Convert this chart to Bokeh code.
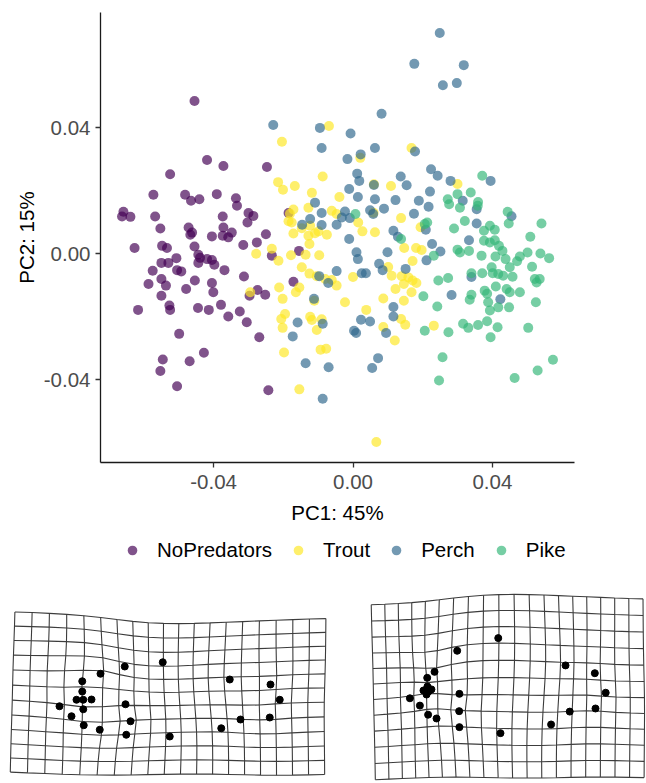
import numpy as np
from bokeh.plotting import figure
from bokeh.models import (Legend, LegendItem, FixedTicker, PrintfTickFormatter, Range1d)
from bokeh.layouts import column, row
from bokeh.embed import file_html
from bokeh.resources import INLINE

# ---------------- data: PCA scores ----------------
GROUPS = ["NoPredators", "Trout", "Perch", "Pike"]
COLORS = ["#440154", "#FDE725", "#31688E", "#35B779"]
TICKS = [-0.04, 0.0, 0.04]
X_TITLE = "PC1: 45%"
Y_TITLE = "PC2: 15%"

NOPRED_X = [-0.0455, -0.0419, -0.0372, -0.0247, -0.0525, -0.0573, -0.0482, -0.0465, -0.0441, -0.0391,
            -0.0336, -0.0333, -0.0659, -0.0663, -0.0639, -0.0568, -0.0553, -0.0472, -0.0462, -0.0467,
            -0.0374, -0.0300, -0.0286, -0.0303, -0.0372, -0.0348, -0.0405, -0.0374, -0.0358, -0.0315,
            -0.0276, -0.0627, -0.0548, -0.0534, -0.0455, -0.0507, -0.0444, -0.0439, -0.0419, -0.0405,
            -0.0398, -0.0550, -0.0530, -0.0444, -0.0575, -0.0505, -0.0493, -0.0369, -0.0550, -0.0587,
            -0.0537, -0.0550, -0.0313, -0.0454, -0.0479, -0.0405, -0.0401, -0.0274, -0.0252, -0.0617,
            -0.0527, -0.0525, -0.0445, -0.0414, -0.0379, -0.0358, -0.0325, -0.0305, -0.0269, -0.0499,
            -0.0428, -0.0546, -0.0469, -0.0553, -0.0505, -0.0243, -0.0185, -0.0250, -0.0155, -0.0233,
            -0.0171, -0.0297]
NOPRED_Y = [0.0484, 0.0297, 0.0278, 0.0275, 0.0252, 0.0187, 0.0187, 0.0168, 0.0173, 0.0189,
            0.0176, 0.0152, 0.0133, 0.0118, 0.0117, 0.0118, 0.0080, 0.0083, 0.0067, 0.0060,
            0.0118, 0.0129, 0.0120, 0.0099, 0.0083, 0.0067, 0.0055, 0.0057, 0.0052, 0.0028,
            0.0036, 0.0018, 0.0025, 0.0018, 0.0023, -0.0014, -0.0003, -0.0013, -0.0017, -0.0020,
            -0.0035, -0.0029, -0.0029, -0.0029, -0.0054, -0.0052, -0.0056, -0.0052, -0.0080, -0.0096,
            -0.0101, -0.0133, -0.0072, -0.0085, -0.0112, -0.0093, -0.0122, -0.0115, -0.0130, -0.0178,
            -0.0164, -0.0178, -0.0172, -0.0178, -0.0162, -0.0199, -0.0183, -0.0217, -0.0265, -0.0254,
            -0.0314, -0.0335, -0.0341, -0.0372, -0.0420, -0.0433, 0.0129, 0.0062, 0.0009, -0.0006,
            -0.0089, -0.0133]

TROUT_X = [-0.0069, -0.0204, 0.0168, 0.0021, -0.0087, -0.0215, -0.0201, -0.0167, -0.0118, -0.0039,
           0.0060, 0.0109, 0.0300, -0.0171, -0.0128, -0.0181, -0.0185, -0.0176, -0.0147, -0.0123,
           -0.0061, -0.0047, 0.0059, 0.0138, 0.0015, 0.0027, 0.0063, 0.0194, -0.0171, -0.0128,
           -0.0109, -0.0099, -0.0075, -0.0125, -0.0233, -0.0278, -0.0214, -0.0178, -0.0136, -0.0097,
           -0.0147, -0.0125, -0.0104, -0.0080, -0.0061, -0.0047, -0.0154, -0.0164, -0.0212, -0.0202,
           -0.0111, -0.0023, -0.0195, -0.0206, -0.0123, -0.0118, -0.0090, -0.0202, -0.0104, -0.0198,
           -0.0093, -0.0077, -0.0154, 0.0000, 0.0038, 0.0101, 0.0111, 0.0140, 0.0146, 0.0122,
           0.0168, 0.0171, 0.0182, 0.0159, 0.0171, 0.0087, 0.0146, 0.0087, 0.0138, 0.0150,
           0.0120, 0.0067, 0.0147, 0.0181, 0.0197, 0.0232, -0.0295]
TROUT_Y = [0.0405, 0.0355, 0.0335, 0.0304, 0.0245, 0.0227, 0.0203, 0.0215, 0.0193, 0.0180,
           0.0220, 0.0215, 0.0221, 0.0140, 0.0146, 0.0127, 0.0103, 0.0099, 0.0081, 0.0089,
           0.0136, 0.0126, 0.0130, 0.0113, 0.0099, 0.0071, 0.0068, 0.0084, 0.0064, 0.0057,
           0.0065, 0.0071, 0.0060, 0.0031, 0.0016, 0.0000, -0.0022, -0.0005, -0.0003, -0.0005,
           -0.0043, -0.0063, -0.0071, -0.0080, -0.0083, -0.0101, -0.0107, -0.0122, -0.0107, -0.0143,
           -0.0149, -0.0154, -0.0191, -0.0207, -0.0200, -0.0210, -0.0208, -0.0235, -0.0242, -0.0313,
           -0.0304, -0.0301, -0.0430, -0.0074, -0.0178, -0.0042, -0.0070, -0.0071, -0.0096, -0.0112,
           -0.0122, -0.0085, -0.0093, -0.0075, -0.0023, -0.0142, -0.0149, -0.0232, -0.0207, -0.0225,
           -0.0275, -0.0597, 0.0018, 0.0018, 0.0012, -0.0228, -0.0122]

PERCH_X = [0.0249, 0.0176, 0.0318, 0.0258, 0.0298, 0.0082, -0.0229, -0.0095, -0.0007, -0.0090,
           0.0063, 0.0178, -0.0016, 0.0022, 0.0224, 0.0243, 0.0280, 0.0395, 0.0012, 0.0018,
           -0.0011, 0.0060, 0.0137, 0.0154, 0.0221, 0.0014, 0.0063, 0.0122, 0.0189, 0.0217,
           0.0315, -0.0109, -0.0090, 0.0049, 0.0089, 0.0058, 0.0175, 0.0355, -0.0023, -0.0032,
           -0.0123, -0.0146, -0.0090, -0.0047, -0.0009, 0.0116, 0.0129, 0.0209, 0.0355, -0.0011,
           0.0455, 0.0099, 0.0010, 0.0014, 0.0075, 0.0211, 0.0251, 0.0227, 0.0333, 0.0151,
           0.0085, -0.0047, 0.0025, 0.0037, 0.0340, -0.0097, -0.0071, -0.0112, 0.0283, 0.0423,
           -0.0087, -0.0159, -0.0173, 0.0023, 0.0049, 0.0003, 0.0009, 0.0095, 0.0116, 0.0116,
           0.0072, 0.0055, -0.0136, -0.0070, -0.0087]
PERCH_Y = [0.0700, 0.0602, 0.0598, 0.0534, 0.0541, 0.0444, 0.0408, 0.0399, 0.0381, 0.0335,
           0.0335, 0.0324, 0.0300, 0.0315, 0.0268, 0.0247, 0.0231, 0.0231, 0.0254, 0.0231,
           0.0205, 0.0218, 0.0245, 0.0217, 0.0197, 0.0180, 0.0173, 0.0170, 0.0168, 0.0149,
           0.0168, 0.0162, 0.0129, 0.0138, 0.0143, 0.0126, 0.0127, 0.0141, 0.0134, 0.0115,
           0.0110, 0.0092, 0.0091, 0.0092, 0.0113, 0.0073, 0.0054, 0.0076, 0.0096, 0.0047,
           0.0119, 0.0005, 0.0005, -0.0017, -0.0032, -0.0021, 0.0007, 0.0031, 0.0043, -0.0048,
           -0.0052, -0.0055, -0.0062, -0.0062, -0.0074, -0.0071, -0.0093, -0.0143, -0.0131, -0.0144,
           -0.0222, -0.0218, -0.0262, -0.0209, -0.0215, -0.0244, -0.0251, -0.0251, -0.0169, -0.0199,
           -0.0331, -0.0362, -0.0347, -0.0360, -0.0460]

PIKE_X = [0.0371, 0.0338, 0.0300, 0.0272, 0.0276, 0.0307, 0.0359, 0.0358, 0.0444, 0.0447,
          0.0541, 0.0321, 0.0213, 0.0206, 0.0290, 0.0376, 0.0393, 0.0407, 0.0509, 0.0376,
          0.0393, 0.0407, 0.0419, 0.0429, 0.0300, 0.0307, 0.0333, 0.0369, 0.0409, 0.0438,
          0.0479, 0.0471, 0.0501, 0.0538, 0.0563, 0.0450, 0.0398, 0.0417, 0.0401, 0.0371,
          0.0458, 0.0514, 0.0522, 0.0536, 0.0527, 0.0431, 0.0232, 0.0273, 0.0245, 0.0340,
          0.0410, 0.0378, 0.0385, 0.0441, 0.0450, 0.0479, 0.0340, 0.0335, 0.0388, 0.0393,
          0.0417, 0.0448, 0.0525, 0.0202, 0.0242, 0.0316, 0.0331, 0.0359, 0.0385, 0.0415,
          0.0395, 0.0503, 0.0206, 0.0274, 0.0257, 0.0247, 0.0464, 0.0530, 0.0574, 0.0007,
          0.0138]
PIKE_Y = [0.0247, 0.0194, 0.0189, 0.0173, 0.0157, 0.0146, 0.0164, 0.0152, 0.0133, 0.0096,
          0.0096, 0.0104, 0.0099, 0.0094, 0.0080, 0.0073, 0.0089, 0.0076, 0.0054, 0.0041,
          0.0036, 0.0043, 0.0025, 0.0009, 0.0013, 0.0004, 0.0009, -0.0006, -0.0009, -0.0017,
          -0.0009, -0.0024, 0.0004, 0.0001, -0.0014, -0.0043, -0.0043, -0.0064, -0.0062, -0.0062,
          -0.0073, -0.0041, -0.0080, -0.0080, -0.0091, -0.0070, -0.0006, -0.0077, -0.0085, -0.0062,
          -0.0104, -0.0117, -0.0127, -0.0112, -0.0122, -0.0122, -0.0130, -0.0146, -0.0154, -0.0180,
          -0.0170, -0.0170, -0.0154, -0.0135, -0.0167, -0.0222, -0.0235, -0.0226, -0.0214, -0.0233,
          -0.0265, -0.0235, -0.0244, -0.0249, -0.0328, -0.0402, -0.0394, -0.0370, -0.0336, 0.0126,
          0.0047]

# ---------------- data: landmark configurations at the two PC extremes ----------------
LEFT_X = [0.085, -0.067, -0.164, -0.237, -0.237, -0.260, -0.233, -0.200, -0.328, -0.233, -0.064, -0.280,
          -0.044, -0.231, -0.167, -0.061, 0.113, 0.353, 0.516, 0.553, 0.513, 0.396, 0.319]
LEFT_Y = [0.165, 0.148, 0.119, 0.089, 0.048, 0.015, 0.015, 0.016, -0.011, -0.023, -0.003, -0.051,
          -0.071, -0.087, -0.105, -0.125, -0.132, 0.096, 0.076, 0.015, -0.056, -0.064, -0.099]
RIGHT_X = [0.089, -0.096, -0.198, -0.231, -0.230, -0.248, -0.225, -0.212, -0.309, -0.234, -0.086, -0.264,
           -0.087, -0.227, -0.189, -0.086, 0.099, 0.392, 0.524, 0.573, 0.527, 0.411, 0.327]
RIGHT_Y = [0.254, 0.197, 0.102, 0.075, 0.036, 0.018, 0.014, 0.023, -0.017, 0.000, 0.003, -0.050,
           -0.075, -0.091, -0.108, -0.147, -0.174, 0.131, 0.096, 0.008, -0.063, -0.077, -0.135]
N_COL_CELL = 20

FONT = "Liberation Sans"
FS = "20.5px"
ALPHA = 0.68


def expand(vals, f=0.05):
    lo, hi = min(vals), max(vals)
    pad = (hi - lo) * f
    return lo - pad, hi + pad


all_x = NOPRED_X + TROUT_X + PERCH_X + PIKE_X
all_y = NOPRED_Y + TROUT_Y + PERCH_Y + PIKE_Y

# ---------------- main scatter ----------------
p = figure(frame_width=474, frame_height=450,
           x_range=Range1d(*expand(all_x)), y_range=Range1d(*expand(all_y)),
           output_backend="svg", toolbar_location=None,
           min_border_left=100, min_border_right=72, min_border_top=12, min_border_bottom=72)
p.xgrid.visible = False
p.ygrid.visible = False
p.outline_line_color = None
p.background_fill_color = "white"
p.border_fill_color = "white"

series = [(NOPRED_X, NOPRED_Y), (TROUT_X, TROUT_Y), (PERCH_X, PERCH_Y), (PIKE_X, PIKE_Y)]
for (xs, ys), col in zip(series, COLORS):
    p.scatter(xs, ys, size=10, fill_color=col, line_color=None, fill_alpha=ALPHA)

for ax in (p.xaxis[0], p.yaxis[0]):
    ax.ticker = FixedTicker(ticks=TICKS)
    ax.formatter = PrintfTickFormatter(format="%.2f")
    ax.axis_line_color = "#1a1a1a"
    ax.axis_line_width = 1.3
    ax.major_tick_line_color = "#333333"
    ax.major_tick_line_width = 1.3
    ax.major_tick_in = 0
    ax.major_tick_out = 5
    ax.minor_tick_line_color = None
    ax.major_label_text_font = FONT
    ax.major_label_text_font_size = FS
    ax.major_label_text_color = "#4D4D4D"
    ax.axis_label_text_font = FONT
    ax.axis_label_text_font_size = FS
    ax.axis_label_text_font_style = "normal"
    ax.axis_label_text_color = "black"

p.xaxis.axis_label = X_TITLE
p.yaxis.axis_label = Y_TITLE
p.xaxis.major_label_standoff = 7
p.xaxis.axis_label_standoff = 9
p.yaxis.major_label_standoff = 5
p.yaxis.axis_label_standoff = 3

# ---------------- legend strip (its frame is aligned with the scatter frame) ----------------
lf = figure(width=646, height=51, x_range=Range1d(0, 1), y_range=Range1d(0, 1),
            output_backend="svg", toolbar_location=None,
            x_axis_location=None, y_axis_location=None, min_border=0)
lf.xgrid.visible = False
lf.ygrid.visible = False
lf.outline_line_color = None
items = []
for name, col in zip(GROUPS, COLORS):
    # legend-key only renderer: holds no visible point
    r = lf.scatter(x=[np.nan], y=[np.nan], size=10, fill_color=col, line_color=None, fill_alpha=ALPHA)
    items.append(LegendItem(label=name, renderers=[r]))
leg = Legend(items=items, orientation="horizontal", location=(20, 23),
             label_text_font=FONT, label_text_font_size=FS, label_text_color="black",
             glyph_width=24, glyph_height=24, label_height=24, label_standoff=13, spacing=14,
             padding=0, margin=0, border_line_color=None, background_fill_alpha=0)
lf.add_layout(leg)


# ---------------- thin-plate spline deformation grids ----------------
def tps_map(src, dst):
    n = len(src)

    def U(a, b):
        d2 = ((a[:, None, :] - b[None, :, :]) ** 2).sum(-1)
        with np.errstate(divide="ignore", invalid="ignore"):
            u = np.where(d2 > 0, d2 * np.log(np.where(d2 > 0, d2, 1.0)), 0.0)
        return u

    K = U(src, src)
    P = np.hstack([np.ones((n, 1)), src])
    L = np.zeros((n + 3, n + 3))
    L[:n, :n] = K
    L[:n, n:] = P
    L[n:, :n] = P.T
    Y = np.vstack([dst, np.zeros((3, 2))])
    W = np.linalg.lstsq(L, Y, rcond=None)[0]

    def f(pts):
        return U(pts, src) @ W[:n] + W[n] + pts @ W[n + 1:]
    return f


left = np.column_stack([LEFT_X, LEFT_Y])
right = np.column_stack([RIGHT_X, RIGHT_Y])
cons = (left + right) / 2.0
xm, xM = cons[:, 0].min(), cons[:, 0].max()
ym, yM = cons[:, 1].min(), cons[:, 1].max()
rX = xM - xm
a = np.linspace(xm - rX / 5, xM + rX / 5, N_COL_CELL)
step = rX * 7 / (5 * (N_COL_CELL - 1))
b = np.arange(ym - rX / 5, yM + rX / 5 + step * 0.01, step)
gx, gy = np.meshgrid(a, b)
grid_pts = np.column_stack([gx.ravel(), gy.ravel()])

# panel placement (screen layout): pixels per shape unit and centroid position
PANELS = [
    dict(target=left, width=340, height=198, scale=250.0, cx=141.0, cy=118.0),
    dict(target=right, width=306, height=198, scale=222.0, cx=138.0, cy=109.0),
]

grid_figs = []
for pan in PANELS:
    tgt = pan["target"]
    f = tps_map(cons, tgt)
    w = f(grid_pts).reshape(len(b), len(a), 2)
    xs = [list(w[i, :, 0]) for i in range(len(b))] + [list(w[:, j, 0]) for j in range(len(a))]
    ys = [list(w[i, :, 1]) for i in range(len(b))] + [list(w[:, j, 1]) for j in range(len(a))]
    s = pan["scale"]
    fr = figure(width=pan["width"], height=pan["height"],
                x_range=Range1d(-pan["cx"] / s, (pan["width"] - pan["cx"]) / s),
                y_range=Range1d(-(pan["height"] - pan["cy"]) / s, pan["cy"] / s),
                output_backend="svg", toolbar_location=None,
                x_axis_location=None, y_axis_location=None, min_border=0)
    fr.xgrid.visible = False
    fr.ygrid.visible = False
    fr.outline_line_color = None
    fr.multi_line(xs, ys, line_color="#3c3c3c", line_width=1.1)
    fr.scatter(tgt[:, 0], tgt[:, 1], size=7, fill_color="black", line_color="black")
    grid_figs.append(fr)

layout = column(p, lf, row(*grid_figs, spacing=0), spacing=0)
open("out.html", "w").write(file_html(layout, INLINE))
